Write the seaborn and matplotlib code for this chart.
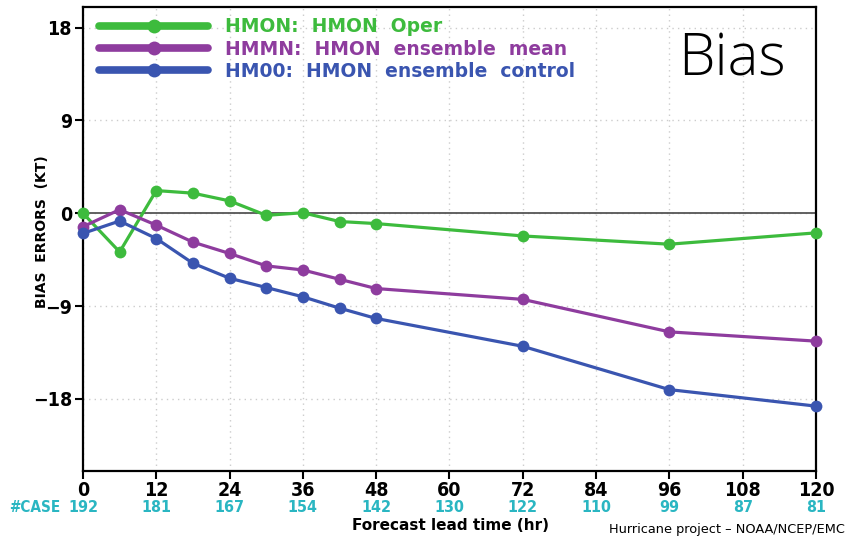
import matplotlib
matplotlib.use("Agg")
import matplotlib.pyplot as plt
import matplotlib.transforms as mtransforms
from matplotlib.lines import Line2D
import numpy as np
import pandas as pd
import seaborn as sns

# Forecast lead times (hr) and mean intensity bias (kt) for each model
lead_hours = [0, 6, 12, 18, 24, 30, 36, 42, 48, 72, 96, 120]
hmon_oper = [0.0, -3.75, 2.2, 1.95, 1.2, -0.2, 0.05, -0.8, -1.0, -2.2, -3.0, -1.9]
hmmn_mean = [-1.3, 0.35, -1.15, -2.8, -3.9, -5.1, -5.5, -6.4, -7.3, -8.35, -11.5, -12.4]
hm00_ctrl = [-1.95, -0.75, -2.45, -4.85, -6.3, -7.2, -8.1, -9.2, -10.2, -12.9, -17.1, -18.7]

series_labels = ["HMON:  HMON  Oper", "HMMN:  HMON  ensemble  mean", "HM00:  HMON  ensemble  control"]
series_colors = ["#3dbb3d", "#8e3c9e", "#3a55b0"]

# Verification sample size per lead time
case_hours = [0, 12, 24, 36, 48, 60, 72, 84, 96, 108, 120]
case_counts = [192, 181, 167, 154, 142, 130, 122, 110, 99, 87, 81]

xticks = list(range(0, 121, 12))
yticks = [-18, -9, 0, 9, 18]

df = pd.concat([
    pd.DataFrame({"hour": lead_hours, "bias": vals, "model": lab})
    for vals, lab in zip([hmon_oper, hmmn_mean, hm00_ctrl], series_labels)
])

sns.set_theme(style="white")
plt.rcParams["font.family"] = ["DejaVu Sans"]

fig = plt.figure(figsize=(8.46, 5.39), dpi=100)
ax = fig.add_axes([0.0981, 0.126, 0.8664, 0.861])

ax.axhline(0, color="#555555", lw=1.3, zorder=1)

sns.lineplot(data=df, x="hour", y="bias", hue="model", hue_order=series_labels,
             palette=series_colors, marker="o", markersize=8.5, markeredgewidth=0,
             linewidth=2.3, ax=ax, legend=False, zorder=3, clip_on=False)

ax.set_xlim(0, 120)
ax.set_ylim(-25, 20)
ax.set_xticks(xticks)
ax.set_yticks(yticks)
ax.set_yticklabels(["\u221218", "\u22129", "0", "9", "18"])
ax.grid(True, color="#cccccc", linestyle=(0, (1, 3)), linewidth=1.0)
for s in ax.spines.values():
    s.set_color("black")
    s.set_linewidth(1.6)

ax.tick_params(axis="both", direction="out", length=6, width=1.5, color="black",
               bottom=True, left=True)
for lab in ax.get_xticklabels():
    lab.set_fontstretch("condensed")
    lab.set_fontweight("bold")
    lab.set_fontsize(14)
    lab.set_color("black")
for lab in ax.get_yticklabels():
    lab.set_fontstretch("condensed")
    lab.set_fontweight("bold")
    lab.set_fontsize(14)
    lab.set_color("black")
ax.tick_params(axis="x", pad=1)
ax.tick_params(axis="y", pad=2)

ax.set_xlabel("")
ax.set_ylabel("BIAS  ERRORS  (KT)", fontsize=10, fontweight="bold", labelpad=4, color="black")
ax.yaxis.set_label_coords(-0.047, 0.515)

# Case counts under each tick
trans = mtransforms.blended_transform_factory(ax.transData, fig.transFigure)
teal = "#2ab6c2"
for h, n in zip(case_hours, case_counts):
    ax.text(h, 1 - 507 / 539, str(n), transform=trans, ha="center", va="center",
            color=teal, fontsize=11.5, fontweight="bold", fontstretch="condensed")
fig.text(9 / 846, 1 - 507 / 539, "#CASE", ha="left", va="center", color=teal,
         fontsize=11, fontweight="bold", fontstretch="condensed")

fig.text(450 / 846, 1 - 526 / 539, "Forecast lead time (hr)", ha="center", va="center",
         fontsize=11, fontweight="bold", color="black")
fig.text(845 / 846, 1 - 530 / 539, "Hurricane project \u2013 NOAA/NCEP/EMC", ha="right",
         va="center", fontsize=9.3, color="black")

# Legend drawn as thick lines with a centred marker
handles = [Line2D([0], [0], color=c, lw=5.5, marker="o", markersize=10, markeredgewidth=0)
           for c in series_colors]
leg = ax.legend(handles, series_labels, loc="upper left", frameon=False,
                handlelength=5.8, handletextpad=0.9, labelspacing=0.18,
                borderaxespad=0.0, bbox_to_anchor=(0.012, 0.994),
                prop={"weight": "bold", "size": 13.5})
for txt, c in zip(leg.get_texts(), series_colors):
    txt.set_color(c)

ax.text(0.885, 0.885, "Bias", transform=ax.transAxes, ha="center", va="center",
        fontsize=42, family=["Open Sans", "DejaVu Sans"], fontweight="light", color="black")

fig.savefig("out.png", dpi=100, facecolor="white")
